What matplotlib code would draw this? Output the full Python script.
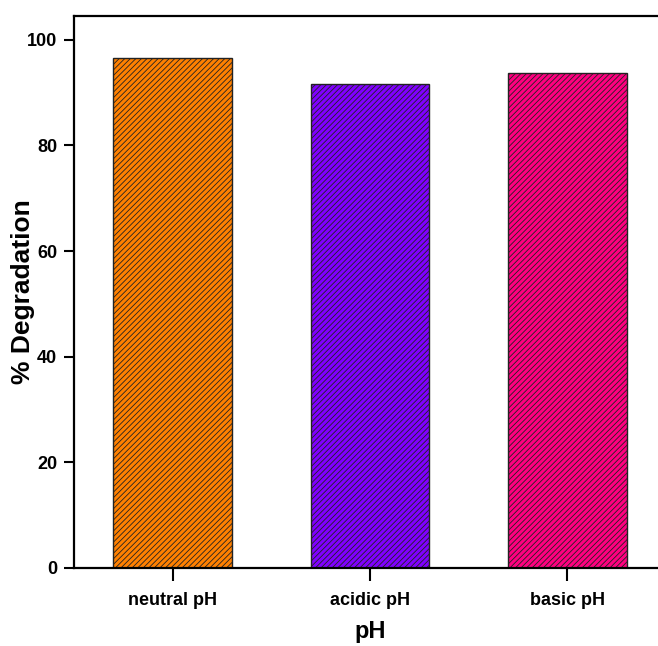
import matplotlib
matplotlib.use("Agg")
import matplotlib.pyplot as plt

categories = ["neutral pH", "acidic pH", "basic pH"]
degradation = [96.6, 91.7, 93.8]
bar_colors = ["#FF8000", "#8000FF", "#FF0080"]
y_ticks = [0, 20, 40, 60, 80, 100]

plt.rcParams["font.family"] = ["Liberation Sans", "DejaVu Sans"]
plt.rcParams["font.weight"] = "bold"
plt.rcParams["hatch.linewidth"] = 0.6

W, H = 658, 646
fig = plt.figure(figsize=(W / 100, H / 100), dpi=100)
left, right, bottom, top = 74, 666, 568, 15.5
ax = fig.add_axes([left / W, (H - bottom) / H, (right - left) / W, (bottom - top) / H])

x = [1, 2, 3]
ax.bar(x, degradation, width=0.6, color=bar_colors, edgecolor="#222222",
       linewidth=1.0, hatch="//////")

ax.set_xlim(0.5, 3.5)
ax.set_ylim(0, 104.6)
ax.set_xticks(x)
ax.set_xticklabels(categories, fontsize=13, fontweight="bold")
ax.set_yticks(y_ticks)
ax.set_yticklabels([str(v) for v in y_ticks], fontsize=13, fontweight="bold")

for s in ax.spines.values():
    s.set_linewidth(1.6)
ax.tick_params(axis="y", direction="out", length=7, width=1.5, pad=5)
ax.tick_params(axis="x", direction="out", length=9, width=1.5, pad=8)

ax.set_xlabel("pH", fontsize=17, fontweight="bold", labelpad=8)
ax.set_ylabel("% Degradation", fontsize=19, fontweight="bold")
ax.yaxis.set_label_coords(-51 / 592, 0.5)
ax.yaxis.label.set_va("center")

fig.savefig("out.png", dpi=100)
